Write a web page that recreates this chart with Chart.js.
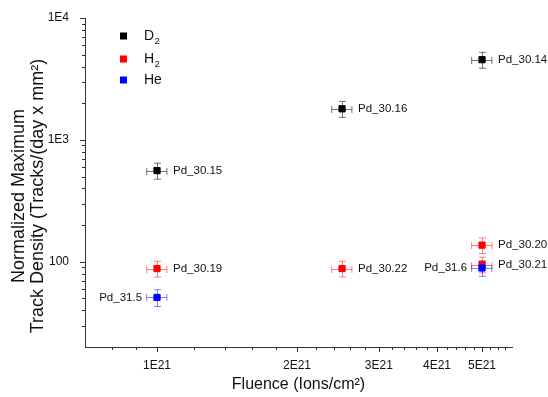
<!DOCTYPE html>
<html><head><meta charset="utf-8">
<script src="https://cdn.jsdelivr.net/npm/chart.js@4.4.0/dist/chart.umd.min.js"></script>
<style>html,body{margin:0;padding:0;background:#fff;}canvas{display:block;}</style>
</head><body>
<canvas id="c" width="548" height="397"></canvas>
<script>
// ---- data ----
const d2X = [1e21, 2.5e21, 5e21];
const d2Y = [560, 1800, 4550];
const d2XErr = [0.05e21, 0.125e21, 0.25e21];
const d2YErr = [84, 270, 680];
const d2Names = ['Pd_30.15', 'Pd_30.16', 'Pd_30.14'];

const h2X = [1e21, 2.5e21, 5e21, 5e21];
const h2Y = [88, 88, 137, 95];
const h2XErr = [0.05e21, 0.125e21, 0.25e21, 0.25e21];
const h2YErr = [13, 13, 20, 14];
const h2Names = ['Pd_30.19', 'Pd_30.22', 'Pd_30.20', 'Pd_30.21'];

const heX = [1e21, 5e21];
const heY = [51, 89];
const heXErr = [0.05e21, 0.25e21];
const heYErr = [8, 13];
const heNames = ['Pd_31.5', 'Pd_31.6'];

const seriesNames = ['D', 'H', 'He'];
const seriesSubs = ['2', '2', ''];

const xTickValues = [1e21, 2e21, 3e21, 4e21, 5e21];
const xTickLabels = ['1E21', '2E21', '3E21', '4E21', '5E21'];
const xMinorTicks = [0.8e21, 0.9e21, 1.2e21, 1.4e21, 1.6e21, 1.8e21, 2.2e21, 2.4e21, 2.6e21, 2.8e21,
  3.2e21, 3.4e21, 3.6e21, 3.8e21, 4.2e21, 4.4e21, 4.6e21, 4.8e21, 5.2e21, 5.4e21, 5.6e21];
const yTickValues = [100, 1000, 10000];
const yTickLabels = ['100', '1E3', '1E4'];
const yMinorTicks = [30, 40, 50, 60, 70, 80, 90, 200, 300, 400, 500, 600, 700, 800, 900,
  2000, 3000, 4000, 5000, 6000, 7000, 8000, 9000];

const leftLabelled = ['Pd_31.5', 'Pd_31.6'];

function pts(xs, ys, xe, ye, names) {
  return xs.map((x, i) => ({ x: x, y: ys[i], xe: xe[i], ye: ye[i], name: names[i] }));
}

const FONT = '"Liberation Sans", Arial, sans-serif';
const AXIS = '#333333';

const decor = {
  id: 'decor',
  beforeDatasetsDraw(chart) {
    const ctx = chart.ctx, xs = chart.scales.x, ys = chart.scales.y;
    chart.data.datasets.forEach((ds) => {
      ctx.save();
      ctx.strokeStyle = ds.errColor;
      ctx.lineWidth = 1;
      ds.data.forEach(p => {
        const px = Math.round(xs.getPixelForValue(p.x)) + 0.5;
        const py = Math.round(ys.getPixelForValue(p.y)) + 0.5;
        const xl = xs.getPixelForValue(p.x - p.xe), xr = xs.getPixelForValue(p.x + p.xe);
        const yt = ys.getPixelForValue(p.y + p.ye), yb = ys.getPixelForValue(p.y - p.ye);
        ctx.beginPath();
        ctx.moveTo(xl, py); ctx.lineTo(xr, py);
        ctx.moveTo(xl, py - 3.5); ctx.lineTo(xl, py + 3.5);
        ctx.moveTo(xr, py - 3.5); ctx.lineTo(xr, py + 3.5);
        ctx.moveTo(px, yt); ctx.lineTo(px, yb);
        ctx.moveTo(px - 3.5, yt); ctx.lineTo(px + 3.5, yt);
        ctx.moveTo(px - 3.5, yb); ctx.lineTo(px + 3.5, yb);
        ctx.stroke();
      });
      ctx.restore();
    });
  },
  afterDraw(chart) {
    const ctx = chart.ctx, xs = chart.scales.x, ys = chart.scales.y, ca = chart.chartArea;
    ctx.save();
    // tick marks
    ctx.strokeStyle = AXIS; ctx.lineWidth = 1;
    ctx.beginPath();
    xTickValues.forEach(v => { const p = Math.round(xs.getPixelForValue(v)) + 0.5; ctx.moveTo(p, ca.bottom); ctx.lineTo(p, ca.bottom + 5); });
    xMinorTicks.forEach(v => { const p = Math.round(xs.getPixelForValue(v)) + 0.5; ctx.moveTo(p, ca.bottom); ctx.lineTo(p, ca.bottom + 3); });
    yTickValues.forEach(v => { const p = Math.round(ys.getPixelForValue(v)) + 0.5; ctx.moveTo(ca.left, p); ctx.lineTo(ca.left - 5, p); });
    yMinorTicks.forEach(v => { const p = Math.round(ys.getPixelForValue(v)) + 0.5; ctx.moveTo(ca.left, p); ctx.lineTo(ca.left - 3, p); });
    ctx.stroke();

    // point labels
    ctx.fillStyle = '#111';
    ctx.font = '11.5px ' + FONT;
    ctx.textBaseline = 'middle';
    chart.data.datasets.forEach(ds => {
      ds.data.forEach(p => {
        const px = xs.getPixelForValue(p.x), py = ys.getPixelForValue(p.y);
        if (leftLabelled.includes(p.name)) {
          ctx.textAlign = 'right';
          ctx.fillText(p.name, px - 15, py);
        } else {
          ctx.textAlign = 'left';
          ctx.fillText(p.name, px + 16, py);
        }
      });
    });

    // legend
    const legY = [36, 59, 80];
    chart.data.datasets.slice().sort((a, b) => a.legendIndex - b.legendIndex).forEach((ds, i) => {
      const y = legY[i];
      ctx.fillStyle = ds.backgroundColor;
      ctx.fillRect(120, y - 3.5, 7, 7);
      ctx.fillStyle = '#111';
      ctx.textAlign = 'left';
      ctx.textBaseline = 'middle';
      ctx.font = '14px ' + FONT;
      ctx.fillText(seriesNames[ds.legendIndex], 144, y);
      const w = ctx.measureText(seriesNames[ds.legendIndex]).width;
      if (seriesSubs[ds.legendIndex]) {
        ctx.font = '9.5px ' + FONT;
        ctx.fillText(seriesSubs[ds.legendIndex], 144 + w + 0.5, y + 5);
      }
    });

    // axis titles
    ctx.fillStyle = '#111';
    ctx.textAlign = 'center';
    ctx.textBaseline = 'middle';
    ctx.font = '16px ' + FONT;
    ctx.fillText('Fluence (Ions/cm²)', (ca.left + ca.right) / 2, 385);
    ctx.translate(0, 196);
    ctx.rotate(-Math.PI / 2);
    ctx.font = '18px ' + FONT;
    ctx.fillText('Normalized Maximum', 0, 19);
    ctx.fillText('Track Density (Tracks/(day x mm²)', 0, 38);
    ctx.restore();
  }
};

new Chart(document.getElementById('c'), {
  type: 'scatter',
  data: {
    datasets: [
      { label: 'D₂', legendIndex: 0, order: 2, data: pts(d2X, d2Y, d2XErr, d2YErr, d2Names),
        backgroundColor: '#000000', borderColor: '#000000', errColor: 'rgba(0,0,0,0.55)' },
      { label: 'H₂', legendIndex: 1, order: 1, data: pts(h2X, h2Y, h2XErr, h2YErr, h2Names),
        backgroundColor: '#ff0000', borderColor: '#ff0000', errColor: 'rgba(255,0,0,0.5)' },
      { label: 'He', legendIndex: 2, order: 0, data: pts(heX, heY, heXErr, heYErr, heNames),
        backgroundColor: '#0000ff', borderColor: '#0000ff', errColor: 'rgba(0,0,255,0.5)' }
    ]
  },
  options: {
    responsive: false,
    animation: false,
    devicePixelRatio: 1,
    events: [],
    layout: { padding: { top: 18, right: 36, left: 0, bottom: 0 } },
    elements: { point: { pointStyle: 'rect', radius: 4.4, borderWidth: 1 } },
    plugins: { legend: { display: false }, tooltip: { enabled: false } },
    scales: {
      x: {
        type: 'logarithmic', min: 0.7e21, max: 5.8e21,
        grid: { display: false },
        border: { display: true, color: AXIS, width: 1 },
        afterBuildTicks: s => { s.ticks = xTickValues.map(v => ({ value: v })); },
        afterFit: s => { s.height = 50; },
        ticks: {
          autoSkip: false, maxRotation: 0, padding: 3, color: '#111',
          font: { family: FONT, size: 12 },
          callback: v => { const i = xTickValues.indexOf(v); return i >= 0 ? xTickLabels[i] : ''; }
        }
      },
      y: {
        type: 'logarithmic', min: 20, max: 10000,
        grid: { display: false },
        border: { display: true, color: AXIS, width: 1 },
        afterBuildTicks: s => { s.ticks = yTickValues.map(v => ({ value: v })); },
        afterFit: s => { s.width = 85; },
        ticks: {
          autoSkip: false, padding: 8, color: '#111',
          font: { family: FONT, size: 12 },
          callback: v => { const i = yTickValues.indexOf(v); return i >= 0 ? yTickLabels[i] : ''; }
        }
      }
    }
  },
  plugins: [decor]
});
</script>
</body></html>
